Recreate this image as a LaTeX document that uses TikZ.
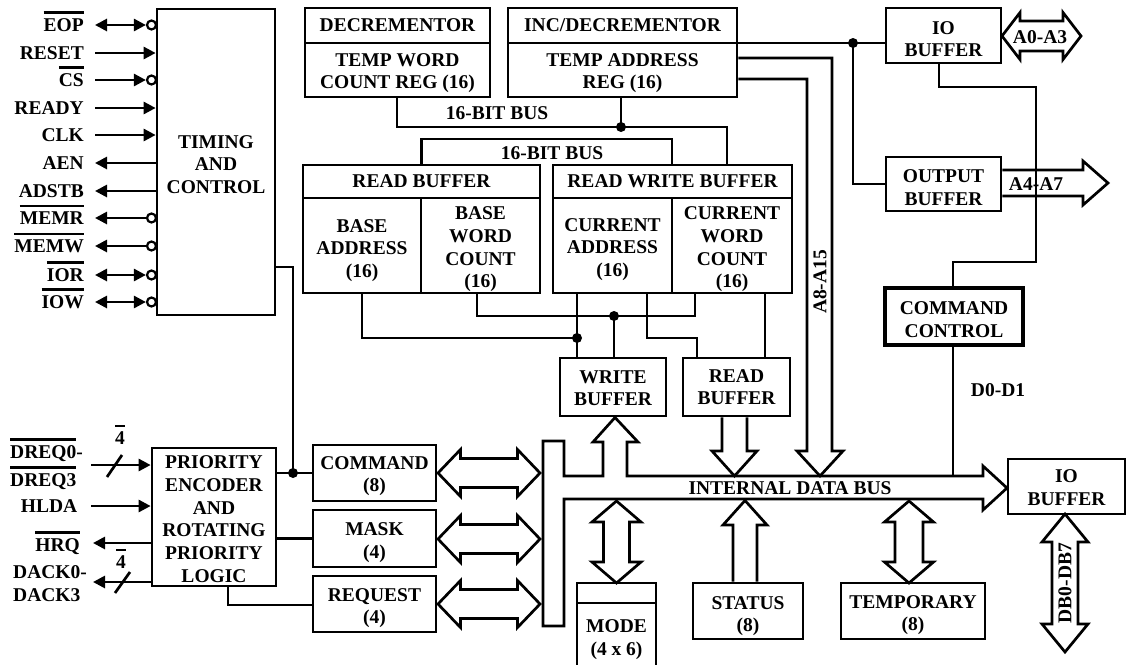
\documentclass[tikz,border=0pt]{standalone}
\usepackage{fontspec}
\setmainfont{Liberation Serif}
\usetikzlibrary{arrows.meta}
\newcommand\barred[1]{\vbox{\hrule height 2.6pt\kern 4.5pt\hbox{#1}}}
\newcommand\tp[1]{\rule{0pt}{#1pt}}
% horizontal double arrow: x1 x2 y headlen shafthalf headhalf
\newcommand\hdarr[6]{\draw[ln] (#1,#3) -- ({#1+#4},{#3-#6}) -- ({#1+#4},{#3-#5}) -- ({#2-#4},{#3-#5}) -- ({#2-#4},{#3-#6}) -- (#2,#3) -- ({#2-#4},{#3+#6}) -- ({#2-#4},{#3+#5}) -- ({#1+#4},{#3+#5}) -- ({#1+#4},{#3+#6}) -- cycle;}
% vertical double arrow: x y1 y2 headlen shafthalf headhalf
\newcommand\vdarr[6]{\draw[ln] (#1,#2) -- ({#1+#6},{#2+#4}) -- ({#1+#5},{#2+#4}) -- ({#1+#5},{#3-#4}) -- ({#1+#6},{#3-#4}) -- (#1,#3) -- ({#1-#6},{#3-#4}) -- ({#1-#5},{#3-#4}) -- ({#1-#5},{#2+#4}) -- ({#1-#6},{#2+#4}) -- cycle;}
\begin{document}
\begin{tikzpicture}[x=1pt,y=-1pt,line join=miter,
  every node/.style={font=\fontsize{19.5}{22.7}\selectfont\bfseries},
  ln/.style={line width=2.7pt},
  sig/.style={line width=2.7pt,-{Triangle[length=12pt,width=12pt]}},
  sigb/.style={line width=2.7pt,{Triangle[length=12pt,width=12pt]}-{Triangle[length=12pt,width=12pt]}},
  box/.style={draw,line width=2.7pt,inner sep=0pt,align=center},
  lbl/.style={inner sep=0pt},
  bub/.style={circle,draw,fill=white,line width=2.2pt,minimum size=9pt,inner sep=0pt},
  jdot/.style={circle,fill,minimum size=10pt,inner sep=0pt}]
\useasboundingbox (0,0) rectangle (1129,664);

% ---------- boxes ----------
\node[box,minimum width=118pt,minimum height=306pt] (timing) at (216,162) {\tp{18}TIMING\\AND\\CONTROL};
\node[box,minimum width=124pt,minimum height=138pt] (prio) at (214,517) {\tp{17}PRIORITY\\ENCODER\\AND\\ROTATING\\PRIORITY\\LOGIC};
\node[box,minimum width=123pt,minimum height=56pt] (cmd) at (374.5,473) {\tp{19}COMMAND\\(8)};
\node[box,minimum width=123pt,minimum height=57pt] (mask) at (374.5,538.5) {\tp{21}MASK\\(4)};
\node[box,minimum width=123pt,minimum height=56pt] (req) at (374.5,604) {\tp{21}REQUEST\\(4)};
\node[box,minimum width=185pt,minimum height=35pt] (dech) at (397.5,25.5) {DECREMENTOR};
\node[box,minimum width=185pt,minimum height=54pt] (decb) at (397.5,70) {\tp{19}TEMP WORD\\COUNT REG (16)};
\node[box,minimum width=229pt,minimum height=35pt] (inch) at (622.5,25.5) {INC/DECREMENTOR};
\node[box,minimum width=229pt,minimum height=54pt] (incb) at (622.5,70) {\tp{19}TEMP ADDRESS\\REG (16)};
\node[box,minimum width=237pt,minimum height=33pt] (rbh) at (421.5,181.5) {READ BUFFER};
\node[box,minimum width=118pt,minimum height=95pt] (baddr) at (362,245.5) {\tp{23}BASE\\ADDRESS\\(16)};
\node[box,minimum width=119pt,minimum height=95pt] (bwc) at (480.5,245.5) {\tp{21}BASE\\WORD\\COUNT\\(16)};
\node[box,minimum width=239pt,minimum height=33pt] (rwh) at (672.5,181.5) {READ WRITE BUFFER};
\node[box,minimum width=119pt,minimum height=95pt] (caddr) at (612.5,245.5) {\tp{21}CURRENT\\ADDRESS\\(16)};
\node[box,minimum width=120pt,minimum height=95pt] (cwc) at (732,245.5) {\tp{21}CURRENT\\WORD\\COUNT\\(16)};
\node[box,minimum width=106pt,minimum height=58pt] (wbuf) at (613,387) {\tp{15}WRITE\\BUFFER};
\node[box,minimum width=107pt,minimum height=58pt] (rbuf) at (736.5,387) {READ\\BUFFER};
\node[box,minimum width=115pt,minimum height=55pt] (iobt) at (943.5,35.5) {\tp{20}IO\\BUFFER};
\node[box,minimum width=115pt,minimum height=54pt] (outb) at (943.5,184) {\tp{20}OUTPUT\\BUFFER};
\node[box,line width=3.6pt,minimum width=138pt,minimum height=57pt] (cctl) at (954,316.5) {\tp{19}COMMAND\\CONTROL};
\node[box,minimum width=117pt,minimum height=55pt] (iobb) at (1066.5,486.5) {\tp{15}IO\\BUFFER};
\node[box,minimum width=144pt,minimum height=56pt] (temp) at (913,611) {\tp{21}TEMPORARY\\(8)};
\node[box,minimum width=110pt,minimum height=56pt] (stat) at (748,611) {\tp{23}STATUS\\(8)};
\node[box,minimum width=79pt,minimum height=20pt] (modeh) at (616.5,593) {};
\node[box,minimum width=79pt,minimum height=66pt] (modeb) at (616.5,636) {\tp{20}MODE\\(4 x 6)};

% ---------- timing & control signals ----------
\node[lbl,anchor=base east] (eopT) at (84,31.5) {\barred{EOP}};
\node[lbl,anchor=base east] (resetT) at (84,59.5) {RESET};
\node[lbl,anchor=base east] (csT) at (84,86.5) {\barred{CS}};
\node[lbl,anchor=base east] (readyT) at (84,114.5) {READY};
\node[lbl,anchor=base east] (clkT) at (84,141.5) {CLK};
\node[lbl,anchor=base east] (aenT) at (84,169.5) {AEN};
\node[lbl,anchor=base east] (adstbT) at (84,197.5) {ADSTB};
\node[lbl,anchor=base east] (memrT) at (84,224.5) {\barred{MEMR}};
\node[lbl,anchor=base east] (memwT) at (84,252.5) {\barred{MEMW}};
\node[lbl,anchor=base east] (iorT) at (84,281.5) {\barred{IOR}};
\node[lbl,anchor=base east] (iowT) at (84,308.5) {\barred{IOW}};

\coordinate (eopL) at (95,25);
\coordinate (resetL) at (95,53);
\coordinate (csL) at (95,80);
\coordinate (readyL) at (95,108);
\coordinate (clkL) at (95,135);
\coordinate (aenL) at (95,163);
\coordinate (adstbL) at (95,191);
\coordinate (memrL) at (95,218);
\coordinate (memwL) at (95,246);
\coordinate (iorL) at (95,275);
\coordinate (iowL) at (95,302);

\node[bub] (eopB) at (151.5,25) {};
\node[bub] (csB) at (151.5,80) {};
\node[bub] (memrB) at (151.5,218) {};
\node[bub] (memwB) at (151.5,246) {};
\node[bub] (iorB) at (151.5,275) {};
\node[bub] (iowB) at (151.5,302) {};

\draw[sigb] (eopL) -- (eopB.west);
\draw[sig] (resetL) -- (resetL -| timing.west);
\draw[sig] (csL) -- (csB.west);
\draw[sig] (readyL) -- (readyL -| timing.west);
\draw[sig] (clkL) -- (clkL -| timing.west);
\draw[sig] (aenL -| timing.west) -- (aenL);
\draw[sig] (adstbL -| timing.west) -- (adstbL);
\draw[sig] (memrB.west) -- (memrL);
\draw[sig] (memwB.west) -- (memwL);
\draw[sigb] (iorL) -- (iorB.west);
\draw[sigb] (iowL) -- (iowB.west);

% ---------- priority signals ----------
\node[lbl,anchor=base west] (dreqT) at (10,458.5) {\barred{DREQ0}-};
\node[lbl,anchor=base west] (dreqTb) at (10,486.5) {\barred{DREQ3}};
\node[lbl,anchor=base] (hldaT) at (49,512.5) {HLDA};
\node[lbl,anchor=base east] (hrqT) at (80,551.5) {\barred{HRQ}};
\node[lbl,anchor=base west] (dackT) at (13,578.5) {DACK0-};
\node[lbl,anchor=base west] (dackTb) at (13,601.5) {DACK3};
\node[lbl,anchor=base] (fourA) at (120,444.5) {\barred{4}};
\node[lbl,anchor=base] (fourB) at (121,568.5) {\barred{4}};

\coordinate (dreqL) at (91,465);
\coordinate (hldaL) at (91,506);
\coordinate (hrqL) at (93,543);
\coordinate (dackL) at (93,582);
\draw[sig] (dreqL) -- (dreqL -| prio.west);
\draw[sig] (hldaL) -- (hldaL -| prio.west);
\draw[sig] (hrqL -| prio.west) -- (hrqL);
\draw[sig] (dackL -| prio.west) -- (dackL);
\draw[ln] (107,477) -- (122,455);
\draw[ln] (115,593) -- (130,572);

% ---------- left connectors ----------
\coordinate (j5) at (293,473);
\coordinate (k12) at (293,267);
\coordinate (k13) at (228,605);
\draw[ln] (timing.east |- k12) -- (k12) -- (j5);
\draw[ln] (prio.east |- j5) -- (cmd.west |- j5);
\draw[ln] (prio.east |- mask.west) -- (mask.west);
\draw[ln] (prio.south -| k13) -- (k13) -- (req.west |- k13);
\node[jdot] (d5) at (j5) {};

% ---------- 16-bit buses ----------
\coordinate (j3) at (621,127);
\coordinate (k6) at (727,127);
\coordinate (k8) at (672,139);
\draw[ln] (decb.south -| 397,0) |- (k6) -- (rwh.north -| k6);
\draw[ln] (incb.south -| j3) -- (j3);
\node[jdot] (d3) at (j3) {};
\draw[ln] (rbh.north) |- (k8) -- (rwh.north -| k8);
\node[lbl,anchor=base] (bus1) at (497,119.5) {16-BIT BUS};
\node[lbl,anchor=base] (bus2) at (552,159.5) {16-BIT BUS};

% ---------- lower buffer wiring ----------
\coordinate (j1) at (577,338);
\coordinate (j2) at (614,316);
\coordinate (k1) at (477,316);
\coordinate (k2) at (695,316);
\coordinate (k3) at (647,338);
\coordinate (k4) at (697,338);
\coordinate (k5) at (765,338);
\draw[ln] (baddr.south) |- (j1);
\draw[ln] (caddr.south -| j1) -- (wbuf.north -| j1);
\draw[ln] (bwc.south -| k1) -- (k1) -- (k2) -- (cwc.south -| k2);
\draw[ln] (j2) -- (wbuf.north -| j2);
\draw[ln] (caddr.south -| k3) -- (k3) -- (k4) -- (rbuf.north -| k4);
\draw[ln] (cwc.south -| k5) -- (rbuf.north -| k5);
\node[jdot] (d1) at (j1) {};
\node[jdot] (d2) at (j2) {};

% ---------- upper right ----------
\coordinate (j4) at (853,43);
\draw[ln] (incb.east |- j4) -- (iobt.west |- j4);
\draw[ln] (j4) |- (outb.west);
\node[jdot] (d4) at (j4) {};

% A0-A3 and A4-A7
\hdarr{1002}{1081}{36}{18}{15}{23.5}
\node[lbl] (a03) at (1040,37) {A0-A3};
\draw[ln] (outb.east |- 0,170) -- (1083,170) -- (1083,161) -- (1108,183) -- (1083,205) -- (1083,196) -- (outb.east |- 0,196);
\node[lbl] (a47) at (1036,184) {A4-A7};

\coordinate (k9) at (939,87);
\coordinate (k10) at (1036,87);
\coordinate (k11) at (1036,262);
\coordinate (k14) at (953,262);
\draw[ln] (iobt.south -| k9) -- (k9) -- (k10) -- (k11) -- (k14) -- (cctl.north -| k14);

% A8-A15
\draw[ln] (incb.east |- 0,58) -- (832,58) -- (832,451) -- (843,451) -- (820,476) -- (797,451) -- (807,451) -- (807,79) -- (incb.east |- 0,79);
\node[lbl,rotate=90] (a815) at (820,282) {A8-A15};

% ---------- internal data bus ----------
\coordinate (busT) at (627,476);
\draw[ln] (543,441) -- (564,441) -- (564,476) -- (603,476) -- (603,442) -- (593,442) -- (615,417.5) -- (638,442) -- (627,442) -- (busT) -- (983,476) -- (983,466) -- (1007,488) -- (983,510) -- (983,499) -- (564,499) -- (564,626) -- (543,626) -- cycle;
\node[lbl,anchor=base] (idb) at (790,494.5) {INTERNAL DATA BUS};

% read buffer down arrow
\draw[ln] (rbuf.south -| 722,0) -- (722,451) -- (712,451) -- (734.5,476) -- (757,451) -- (747,451) -- (rbuf.south -| 747,0);

% command control to bus
\draw[ln] (cctl.south -| k14) -- (k14 |- busT);
\node[lbl,anchor=base] (d01) at (998,396.5) {D0-D1};

% register arrows to bus bar
\hdarr{438}{540}{473}{22.5}{14.5}{23.5}
\hdarr{438}{540}{539}{22.5}{14.5}{23.5}
\hdarr{438}{540}{604}{22.5}{14.5}{23.5}

% mode, status, temporary
\vdarr{616.5}{501}{583}{21}{13}{24.5}
\draw[ln] (stat.north -| 733,0) -- (733,525) -- (723,525) -- (745,500.5) -- (767,525) -- (757,525) -- (stat.north -| 757,0);
\vdarr{909}{501}{583}{21}{14}{24.5}

% DB0-DB7
\vdarr{1065}{514}{652}{28}{13}{23}
\node[lbl,rotate=90] (db) at (1065,583) {DB0-DB7};
\end{tikzpicture}
\end{document}
